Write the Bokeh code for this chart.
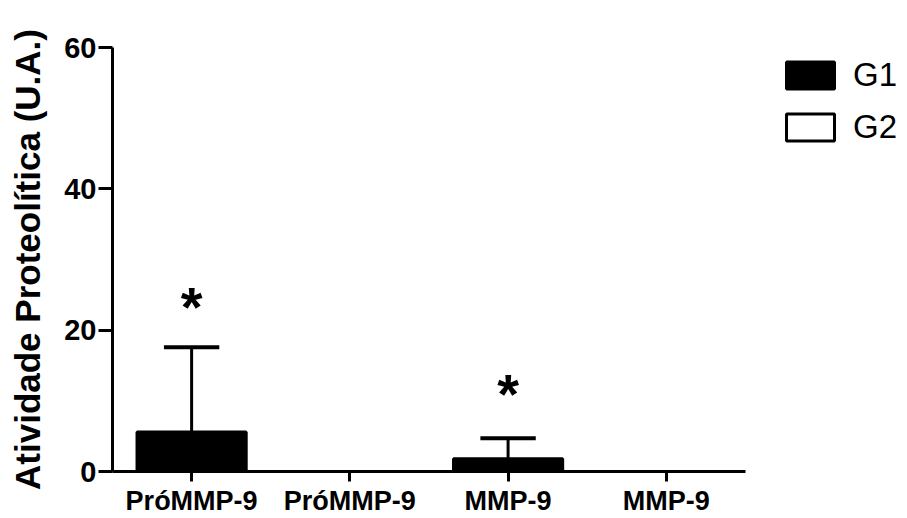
from bokeh.plotting import figure
from bokeh.models import Range1d, FixedTicker, Legend, LegendItem, ColumnDataSource
from bokeh.core.properties import value
from bokeh.embed import file_html
from bokeh.resources import INLINE

# data
labels = ["PróMMP-9", "PróMMP-9", "MMP-9", "MMP-9"]
groups = ["G1", "G2", "G1", "G2"]
means = [5.6, 0.0, 1.8, 0.0]
upper = [17.6, 0.0, 4.7, 0.0]
star_x = [0, 2]
star_y = [23.6, 11.3]
y_ticks = [0, 20, 40, 60]

xs = list(range(len(labels)))
FONT = "Liberation Sans"

# frame spans to the right edge so the legend can sit inside it;
# the x axis line is bounded to the category region
p = figure(width=900, height=518, output_backend="svg", toolbar_location=None,
           x_range=Range1d(-0.5, 4.48), y_range=Range1d(0, 60),
           min_border_left=112, min_border_top=47, min_border_bottom=46,
           min_border_right=0)
p.outline_line_color = None
p.xgrid.visible = False
p.ygrid.visible = False
p.background_fill_color = "white"
p.border_fill_color = "white"

g1 = [i for i, g in enumerate(groups) if g == "G1"]
g2 = [i for i, g in enumerate(groups) if g == "G2"]

src1 = ColumnDataSource(dict(x=[xs[i] for i in g1], top=[means[i] for i in g1]))
src2 = ColumnDataSource(dict(x=[xs[i] for i in g2], top=[means[i] for i in g2]))
r1 = p.vbar(x="x", top="top", bottom=0, width=0.69, source=src1,
            fill_color="black", line_color="black", line_width=3)
r2 = p.vbar(x="x", top="top", bottom=0, width=0.69, source=src2,
            fill_color="white", line_color="black", line_width=3)

# error bars (upper only)
ex = [xs[i] for i in g1]
eb = [means[i] for i in g1]
et = [upper[i] for i in g1]
p.segment(x0=ex, y0=eb, x1=ex, y1=et, line_color="black", line_width=3)
cap = 0.175
p.segment(x0=[x - cap for x in ex], y0=et, x1=[x + cap for x in ex], y1=et,
          line_color="black", line_width=4)

# significance stars
p.text(x=star_x, y=star_y, text=["*"] * len(star_x), text_align="center",
       text_baseline="middle", text_font=value(FONT), text_font_style="bold",
       text_font_size="56px", text_color="black", y_offset=2)

# axes
p.xaxis.ticker = FixedTicker(ticks=xs)
p.xaxis.bounds = (-0.5, 3.5)
p.xaxis.major_label_overrides = {i: l for i, l in enumerate(labels)}
p.xaxis.minor_tick_line_color = None
p.xaxis.major_tick_in = 0
p.xaxis.major_tick_out = 10
p.xaxis.major_tick_line_width = 3
p.xaxis.axis_line_width = 3
p.xaxis.major_label_text_font = FONT
p.xaxis.major_label_text_font_style = "bold"
p.xaxis.major_label_text_font_size = "27px"
p.xaxis.major_label_text_color = "black"
p.xaxis.major_label_standoff = 4

p.yaxis.ticker = FixedTicker(ticks=y_ticks)
p.yaxis.minor_tick_line_color = None
p.yaxis.major_tick_in = 0
p.yaxis.major_tick_out = 14
p.yaxis.major_tick_line_width = 3
p.yaxis.axis_line_width = 3
p.yaxis.major_label_text_font = FONT
p.yaxis.major_label_text_font_style = "bold"
p.yaxis.major_label_text_font_size = "29px"
p.yaxis.major_label_text_color = "black"
p.yaxis.major_label_standoff = 2
p.yaxis.axis_label = "Atividade Proteolítica (U.A.)"
p.yaxis.axis_label_text_font = FONT
p.yaxis.axis_label_text_font_style = "bold"
p.yaxis.axis_label_text_font_size = "35px"
p.yaxis.axis_label_text_color = "black"
p.yaxis.axis_label_standoff = 14

legend = Legend(items=[LegendItem(label="G1", renderers=[r1]),
                       LegendItem(label="G2", renderers=[r2])],
                location=(668, 325), glyph_width=60, glyph_height=34,
                spacing=14, label_standoff=13, padding=0, margin=0,
                border_line_color=None, background_fill_alpha=0,
                label_text_font=FONT, label_text_font_size="33px",
                label_text_color="black")
p.add_layout(legend, "center")

open("out.html", "w").write(file_html(p, INLINE))
